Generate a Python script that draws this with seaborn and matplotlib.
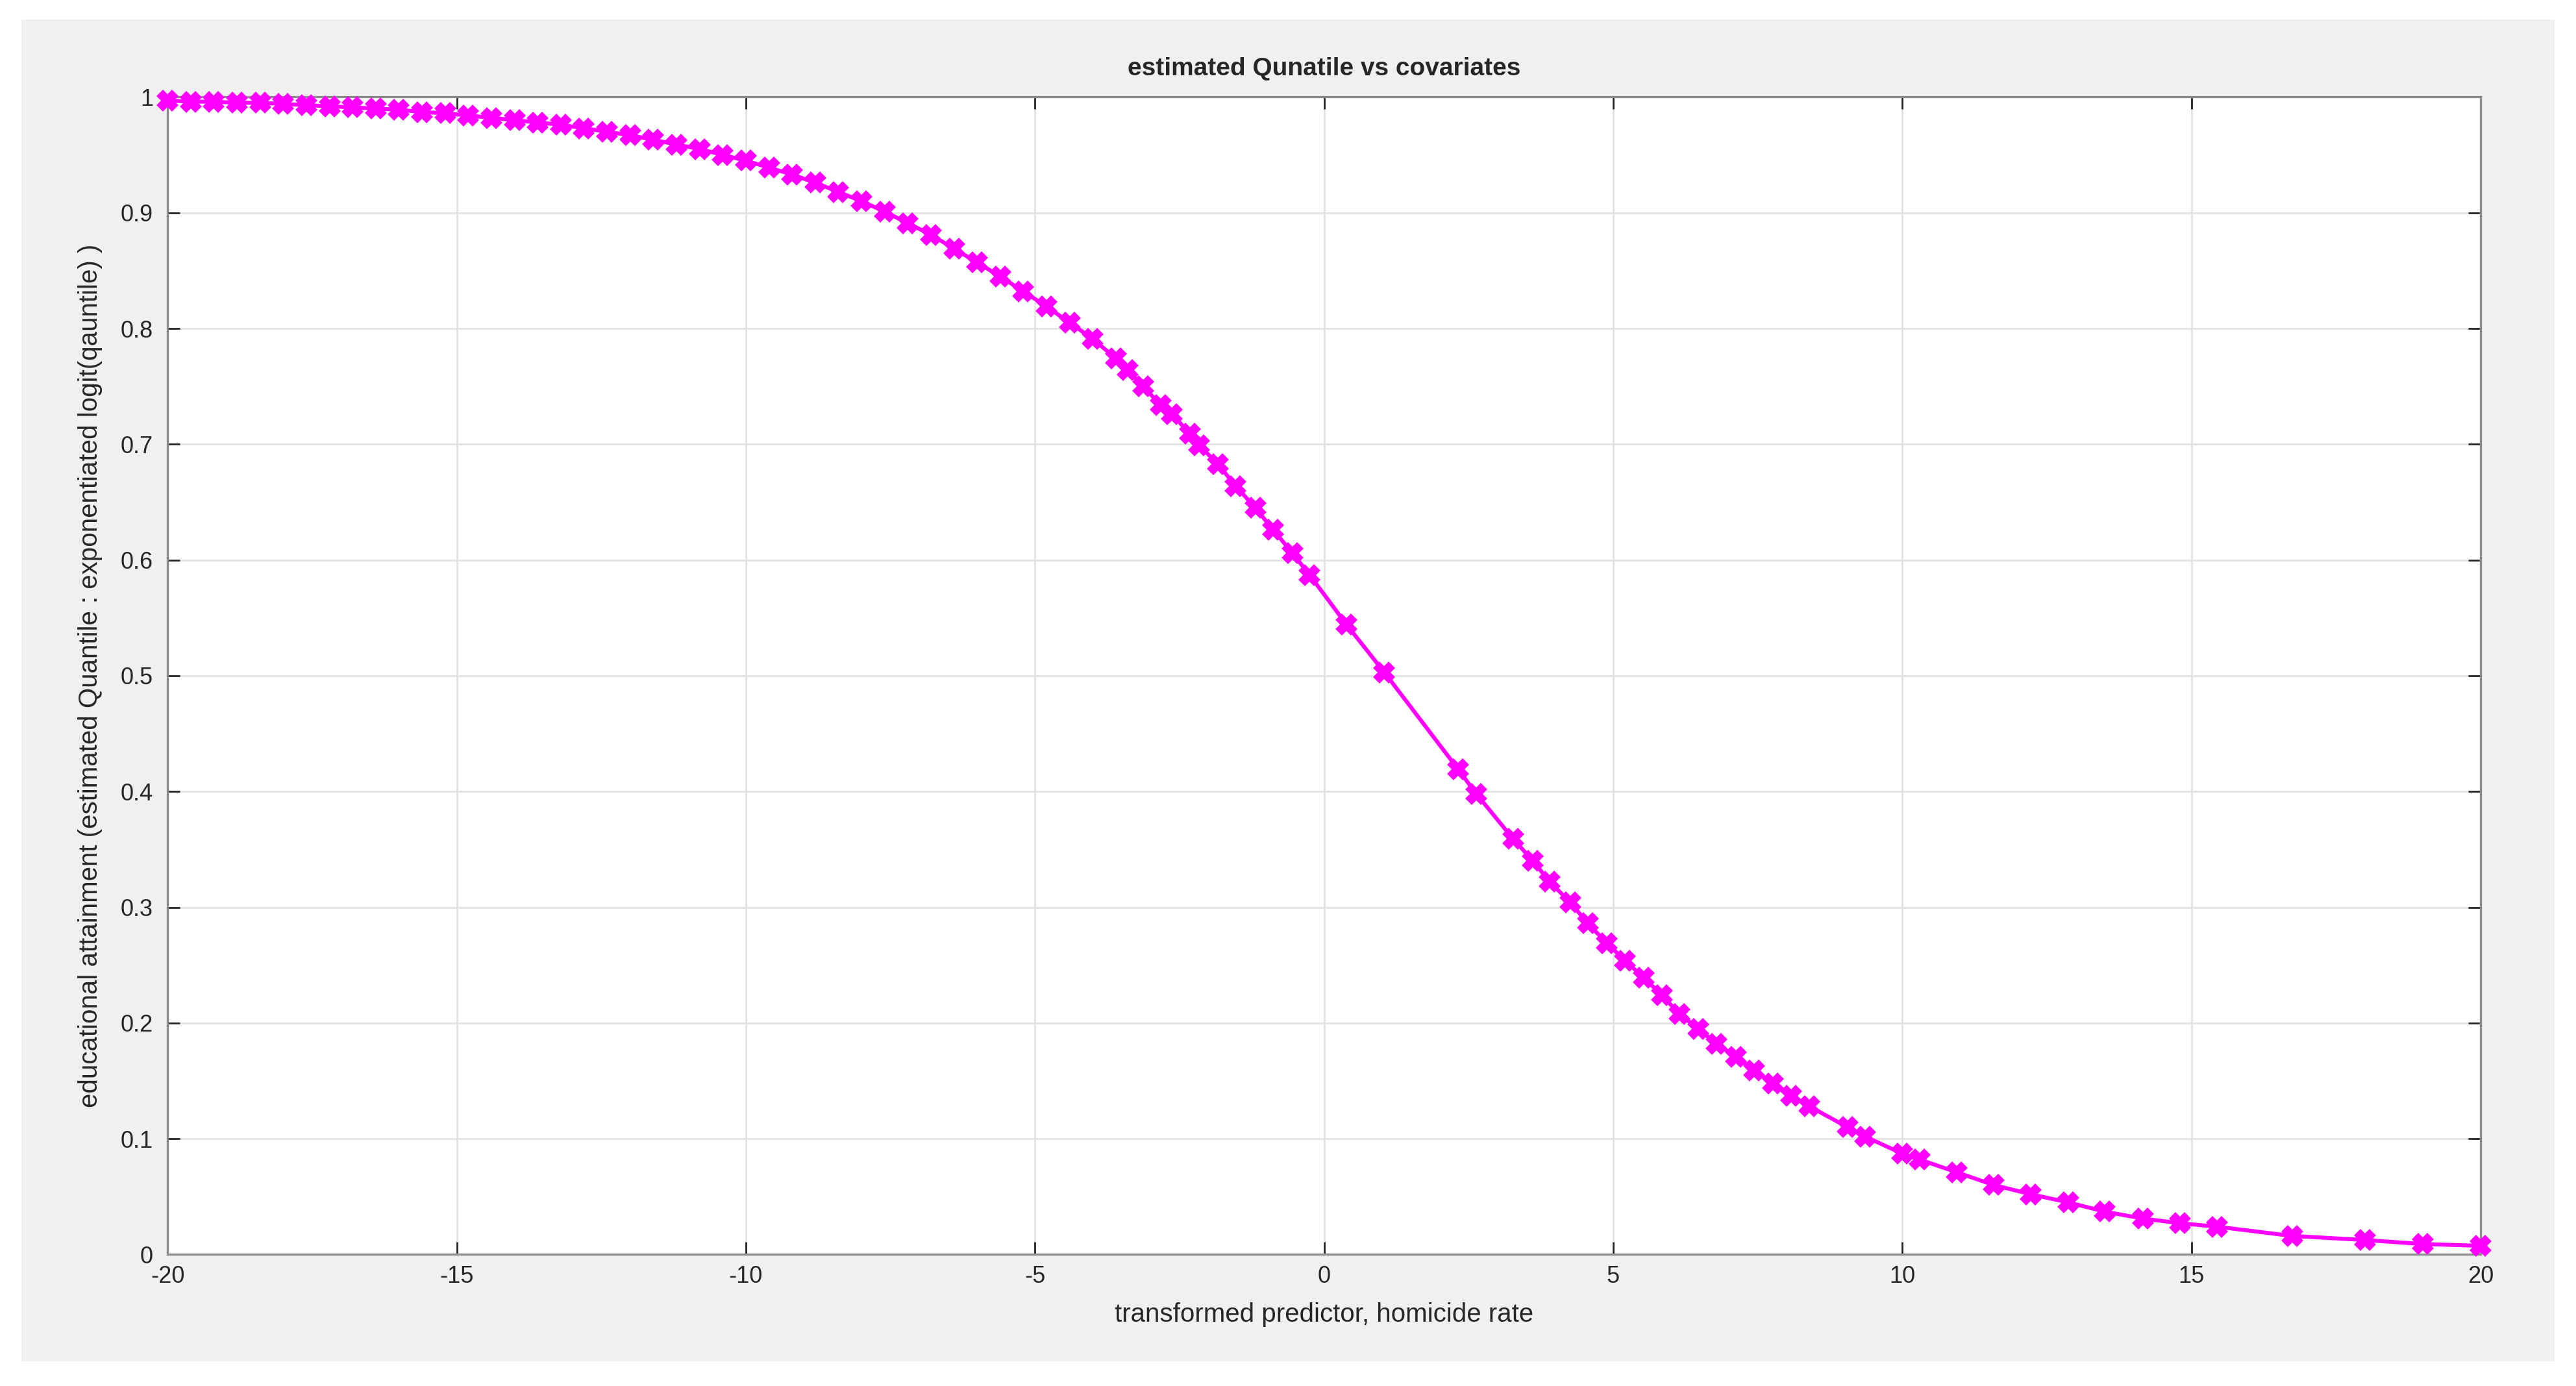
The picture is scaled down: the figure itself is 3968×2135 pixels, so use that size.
import matplotlib
matplotlib.use("Agg")
import matplotlib.pyplot as plt
import seaborn as sns
import pandas as pd
from matplotlib.patches import Rectangle

x_vals = [-20.0, -19.6, -19.2, -18.8, -18.4, -18.0, -17.6, -17.2, -16.8, -16.4,
          -16.0, -15.6, -15.2, -14.8, -14.4, -14.0, -13.6, -13.2, -12.8, -12.4,
          -12.0, -11.6, -11.2, -10.8, -10.4, -10.0, -9.6, -9.2, -8.8, -8.4,
          -8.0, -7.6, -7.2, -6.8, -6.4, -6.0, -5.6, -5.2, -4.8, -4.4,
          -4.0, -3.6, -3.4, -3.13, -2.83, -2.63, -2.32, -2.16, -1.84, -1.53,
          -1.19, -0.88, -0.55, -0.25, 0.39, 1.04, 2.32, 2.63, 3.27, 3.61,
          3.90, 4.26, 4.56, 4.89, 5.20, 5.53, 5.84, 6.14, 6.47, 6.78,
          7.12, 7.43, 7.76, 8.07, 8.39, 9.05, 9.35, 10.0, 10.3, 10.94,
          11.58, 12.22, 12.87, 13.5, 14.16, 14.8, 15.44, 16.74, 18.0, 19.0, 20.0]
y_vals = [0.997, 0.996, 0.996, 0.995, 0.995, 0.994, 0.993, 0.992, 0.991, 0.990,
          0.989, 0.987, 0.986, 0.984, 0.982, 0.980, 0.978, 0.976, 0.973, 0.970,
          0.967, 0.963, 0.959, 0.955, 0.950, 0.945, 0.939, 0.933, 0.926, 0.918,
          0.910, 0.901, 0.891, 0.881, 0.869, 0.857, 0.845, 0.832, 0.819, 0.805,
          0.791, 0.774, 0.764, 0.750, 0.734, 0.726, 0.709, 0.699, 0.683, 0.664,
          0.645, 0.626, 0.606, 0.587, 0.544, 0.503, 0.419, 0.398, 0.359, 0.340,
          0.322, 0.304, 0.286, 0.269, 0.254, 0.239, 0.224, 0.208, 0.195, 0.182,
          0.171, 0.159, 0.148, 0.137, 0.128, 0.110, 0.102, 0.087, 0.082, 0.071,
          0.060, 0.052, 0.045, 0.037, 0.031, 0.027, 0.024, 0.016, 0.0125, 0.009, 0.0075]
x_ticks = [-20, -15, -10, -5, 0, 5, 10, 15, 20]
y_ticks = [0, 0.1, 0.2, 0.3, 0.4, 0.5, 0.6, 0.7, 0.8, 0.9, 1]
y_ticklabels = ["0", "0.1", "0.2", "0.3", "0.4", "0.5", "0.6", "0.7", "0.8", "0.9", "1"]

sns.set_style("white")
plt.rcParams['font.family'] = ['Liberation Sans', 'DejaVu Sans']

fig = plt.figure(figsize=(19.84, 10.675), dpi=200, facecolor='white')
fig.patches.append(Rectangle((13/1568, 1 - 828/843), (1555-13)/1568, (828-12)/843,
                             transform=fig.transFigure, facecolor='#f0f0f0',
                             edgecolor='none', zorder=-10))
ax = fig.add_axes([102/1568, 1 - 763/843, (1510-102)/1568, (763-59)/843])
ax.set_facecolor('white')

df = pd.DataFrame({"x": x_vals, "y": y_vals})
sns.lineplot(data=df, x="x", y="y", sort=False, ax=ax, color='#ff00ff',
             linewidth=2.2, marker='X', markersize=10, markeredgewidth=1.5,
             markeredgecolor='#ff00ff', markerfacecolor='#ff00ff', clip_on=False, zorder=5)

ax.set_xlim(-20, 20)
ax.set_ylim(0, 1)
ax.set_xticks(x_ticks)
ax.set_xticklabels([str(t) for t in x_ticks])
ax.set_yticks(y_ticks)
ax.set_yticklabels(y_ticklabels)
ax.grid(True, color='#e3e3e3', linewidth=1.0)
ax.set_axisbelow(True)
ax.tick_params(direction='in', length=7, width=1, colors='#262626', labelsize=13,
               top=True, right=True, bottom=True, left=True)
ax.tick_params(axis='x', pad=6)
ax.tick_params(axis='y', pad=8)
for s in ax.spines.values():
    s.set_color('#8c8c8c')
    s.set_linewidth(1.2)
    s.set_visible(True)
ax.set_title("estimated Qunatile vs covariates", fontsize=14, fontweight='bold', pad=12)
ax.set_xlabel("transformed predictor, homicide rate", fontsize=14.5, color='#262626', labelpad=8)
ax.set_ylabel("educational attainment (estimated Quantile : exponentiated logit(qauntile) )",
              fontsize=14.5, color='#262626', labelpad=10)

fig.savefig("out.png", dpi=200, facecolor='white')
